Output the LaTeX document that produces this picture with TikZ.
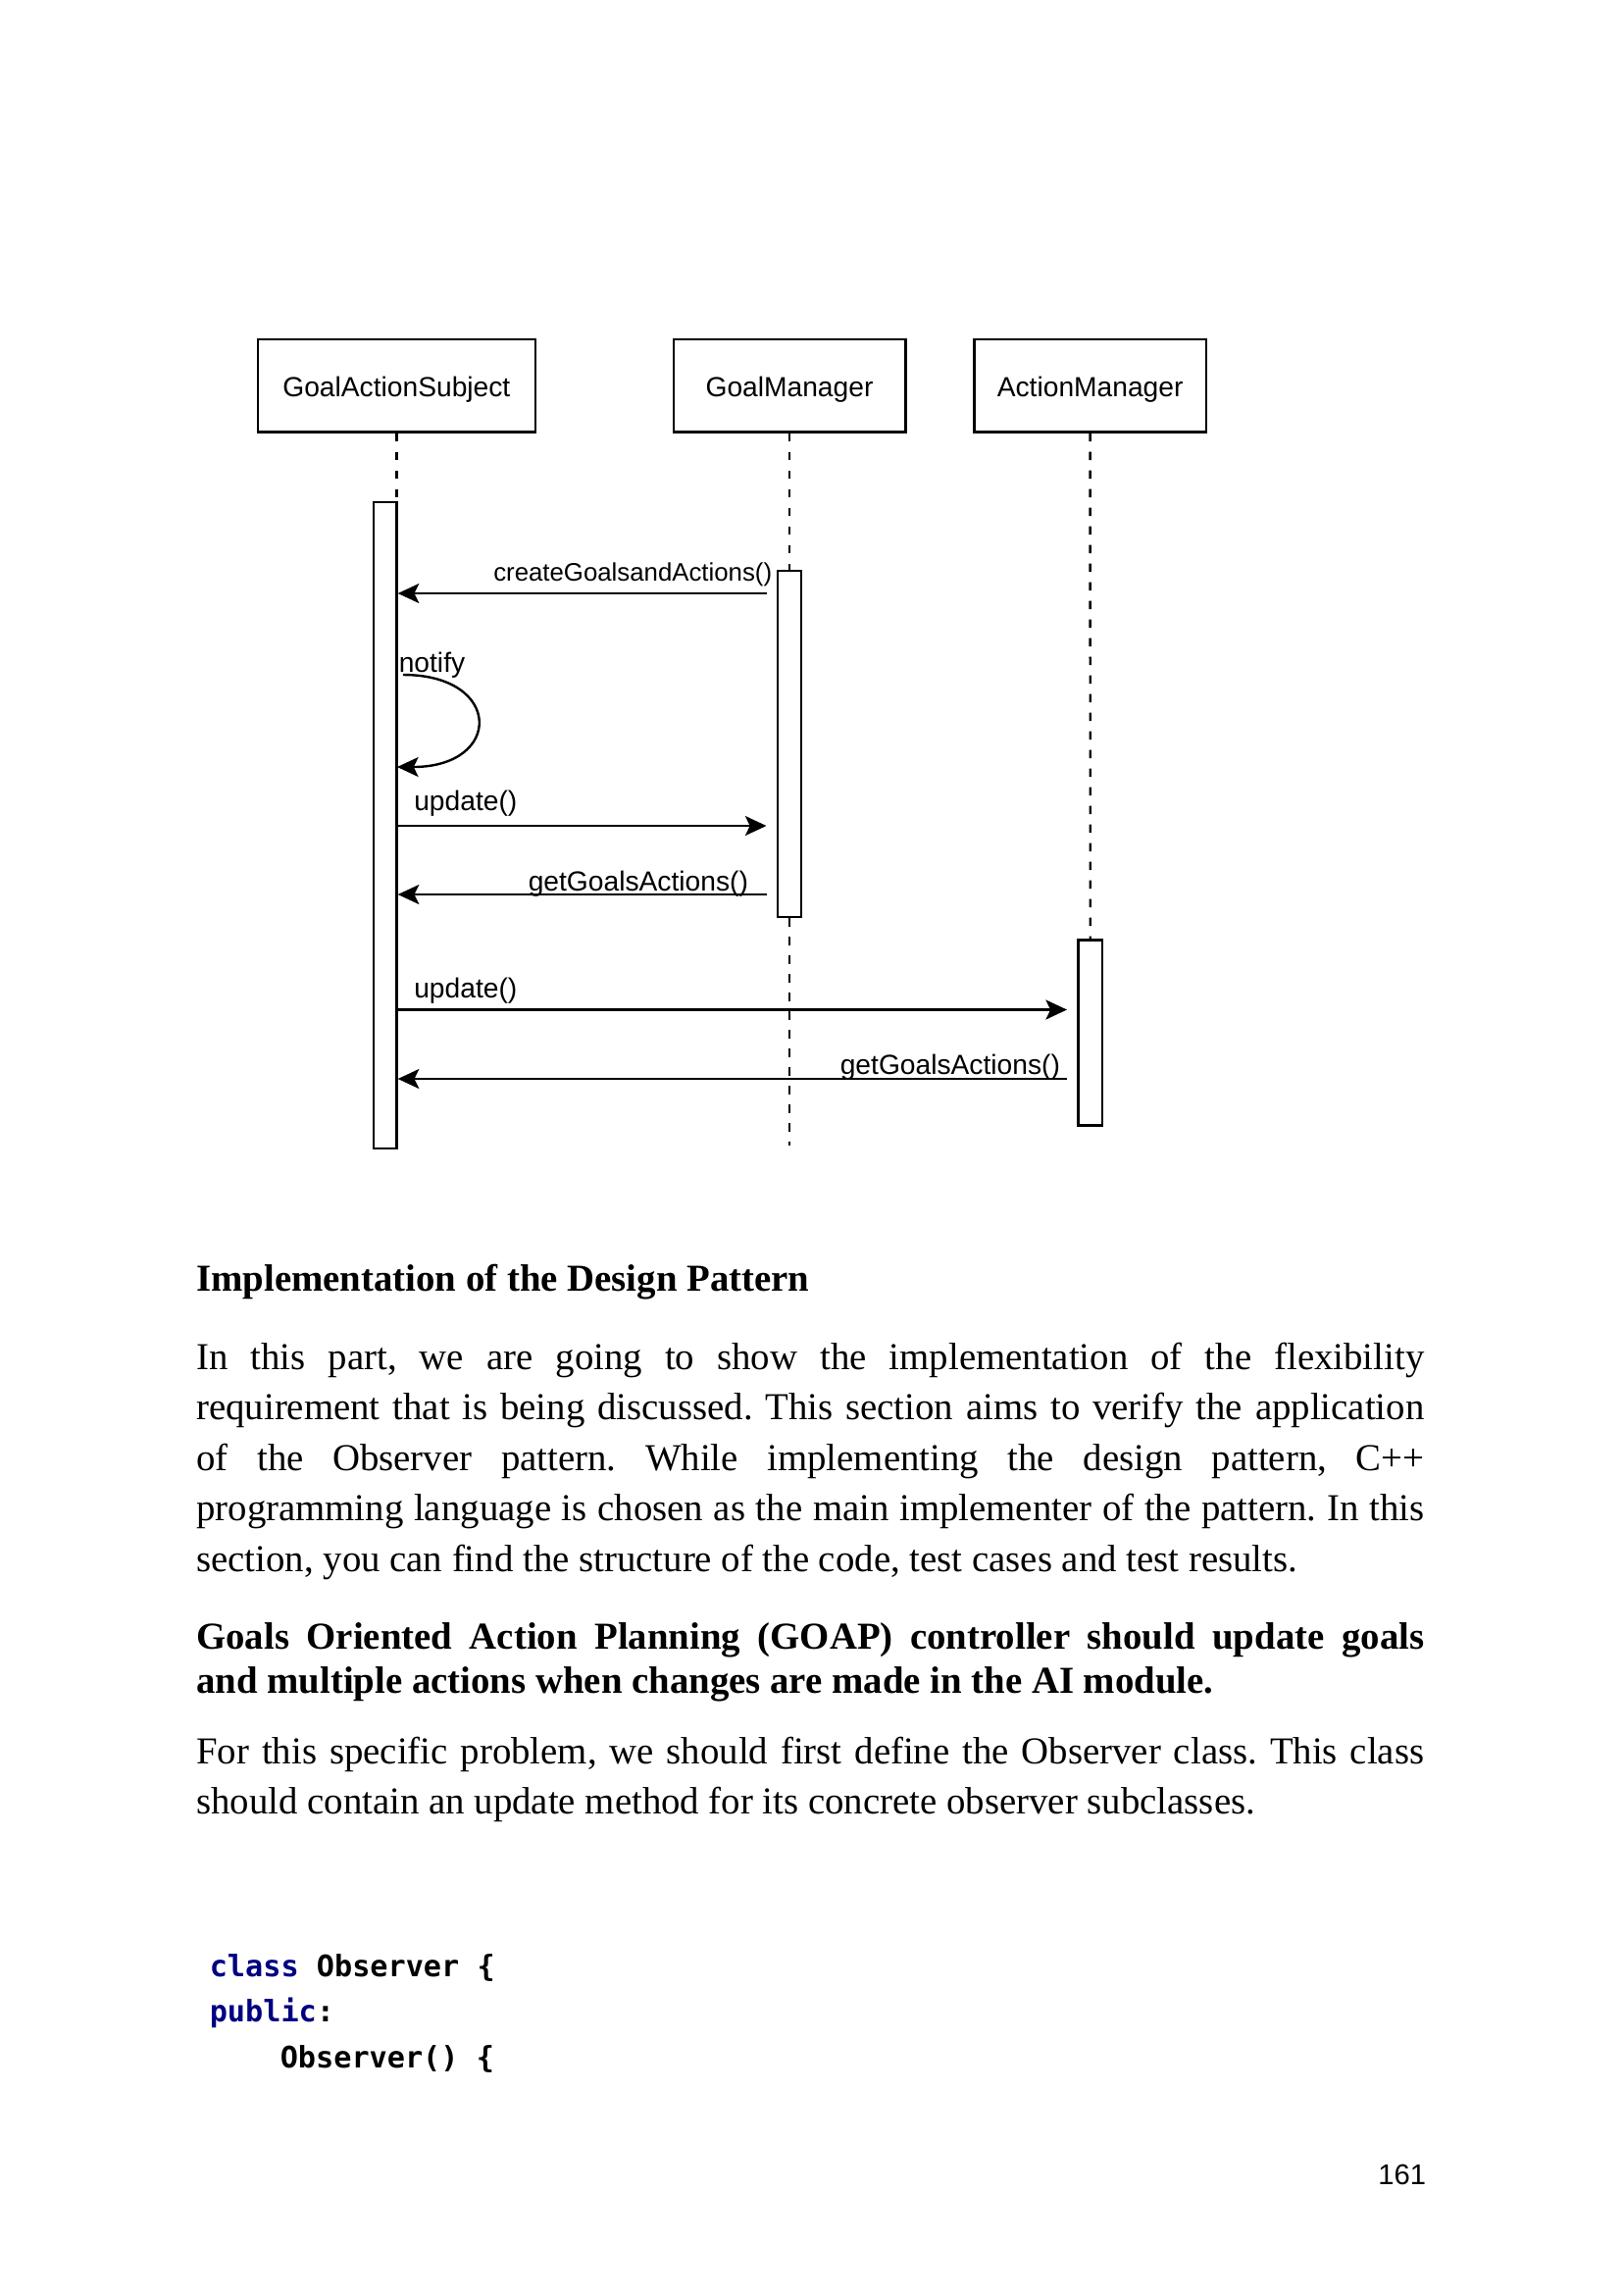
\documentclass[tikz,border=0pt]{standalone}
\usepackage{fontspec}
\setmainfont{Liberation Serif}
\newfontfamily\arialf{Liberation Sans}
\newfontfamily\monof{DejaVu Sans Mono}
\usetikzlibrary{arrows.meta}
\definecolor{kw}{RGB}{0,0,128}
\frenchspacing
\begin{document}
\begin{tikzpicture}[x=0.25pt,y=-0.25pt,
  lifebox/.style={draw, line width=0.6pt, minimum height=94.5*0.25pt, inner sep=0pt,
    font=\arialf\fontsize{7.05pt}{8pt}\selectfont, text height=5.5pt, text depth=0pt},
  actbar/.style={draw, fill=white, line width=0.6pt, inner sep=0pt},
  lifeline/.style={line width=0.6pt, dash pattern=on 2.1pt off 2.65pt},
  msg/.style={line width=0.6pt, -{Stealth[length=5.4pt,width=5pt,inset=1.2pt]}},
  lbl/.style={inner sep=0pt, font=\arialf\fontsize{7.05pt}{8pt}\selectfont},
  body/.style={inner sep=0pt, anchor=base west, font=\fontsize{9.7pt}{11pt}\selectfont},
  bodyb/.style={inner sep=0pt, anchor=base west, font=\bfseries\fontsize{9.7pt}{11pt}\selectfont},
  code/.style={inner sep=0pt, anchor=base west, font=\monof\bfseries\fontsize{7.55pt}{9pt}\selectfont}
]
\useasboundingbox (0,0) rectangle (1656,2339);

% ---- lifeline heads
\node[lifebox, minimum width=283.3*0.25pt] (gas) at (404.35,393.25) {GoalActionSubject};
\node[lifebox, minimum width=236.6*0.25pt] (gm) at (805,393.25) {GoalManager};
\node[lifebox, minimum width=236.7*0.25pt] (am) at (1111.65,393.25) {ActionManager};

% ---- activation bars
\node[actbar, minimum width=23.5*0.25pt, minimum height=659*0.25pt] (gasact) at (392.75,841.2) {};
\node[actbar, minimum width=24*0.25pt, minimum height=353*0.25pt] (gmact) at (805,758.5) {};
\node[actbar, minimum width=24.5*0.25pt, minimum height=189*0.25pt] (amact) at (1111.75,1053) {};

% ---- lifelines
\coordinate (gmend) at (805,1168);
\draw[lifeline] (gas.south) -- (gas.south |- gasact.north);
\draw[lifeline] (gm.south) -- (gmact.north);
\draw[lifeline] (gmact.south) -- (gmend);
\draw[lifeline] (am.south) -- (amact.north);

% ---- message end points
\coordinate (m1s) at (781.5,605);
\coordinate (m2s) at (411,688);
\coordinate (m2e) at (405,782);
\coordinate (m3e) at (781.5,842);
\coordinate (m4s) at (781.5,912);
\coordinate (m5e) at (1088,1029.5);
\coordinate (m6s) at (1088,1100);

% ---- messages
\draw[msg] (m1s) -- (gasact.east |- m1s);
\draw[msg] (m2s) .. controls (513,688) and (513,782) .. (m2e);
\draw[msg] (gasact.east |- m3e) -- (m3e);
\draw[msg] (m4s) -- (gasact.east |- m4s);
\draw[msg] (gasact.east |- m5e) -- (m5e);
\draw[msg] (m6s) -- (gasact.east |- m6s);

% ---- message labels
\node[lbl, anchor=base east, font=\arialf\fontsize{6.45pt}{8pt}\selectfont] (l1) at (788,592) {createGoalsandActions()};
\node[lbl, anchor=base west] (l2) at (406,685) {notify};
\node[lbl, anchor=base west] (l3) at (421.5,826.7) {update()};
\node[lbl, anchor=base west] (l4) at (538,908) {getGoalsActions()};
\node[lbl, anchor=base west] (l5) at (421.5,1017) {update()};
\node[lbl, anchor=base west] (l6) at (856,1095) {getGoalsActions()};

% ---- text
\node[bodyb] (h1) at (199.5,1316) {Implementation of the Design Pattern};
\node[body] (p1) at (199.5,1396) {\makebox[313pt][s]{In this part, we are going to show the implementation of the flexibility}};
\node[body] (p2) at (199.5,1447.6) {\makebox[313pt][s]{requirement that is being discussed. This section aims to verify the application}};
\node[body] (p3) at (199.5,1499.2) {\makebox[313pt][s]{of the Observer pattern. While implementing the design pattern, C++}};
\node[body] (p4) at (199.5,1550.8) {\makebox[313pt][s]{programming language is chosen as the main implementer of the pattern. In this}};
\node[body] (p5) at (199.5,1602.4) {section, you can find the structure of the code, test cases and test results.};

\node[bodyb] (b1) at (199.5,1681) {\makebox[313pt][s]{Goals Oriented Action Planning (GOAP) controller should update goals}};
\node[bodyb] (b2) at (199.5,1726) {and multiple actions when changes are made in the AI module.};

\node[body] (q1) at (199.5,1798.5) {\makebox[313pt][s]{For this specific problem, we should first define the Observer class. This class}};
\node[body] (q2) at (199.5,1849.5) {should contain an update method for its concrete observer subclasses.};

% ---- code
\node[code] (c1) at (213,2015) {\textcolor{kw}{class} Observer \{};
\node[code] (c2) at (213,2061.5) {\textcolor{kw}{public}:};
\node[code] (c3) at (285,2108) {Observer() \{};

% ---- page number
\node[inner sep=0pt, anchor=base east, font=\arialf\fontsize{7.3pt}{8pt}\selectfont] (pg) at (1455,2227) {161};
\end{tikzpicture}
\end{document}
